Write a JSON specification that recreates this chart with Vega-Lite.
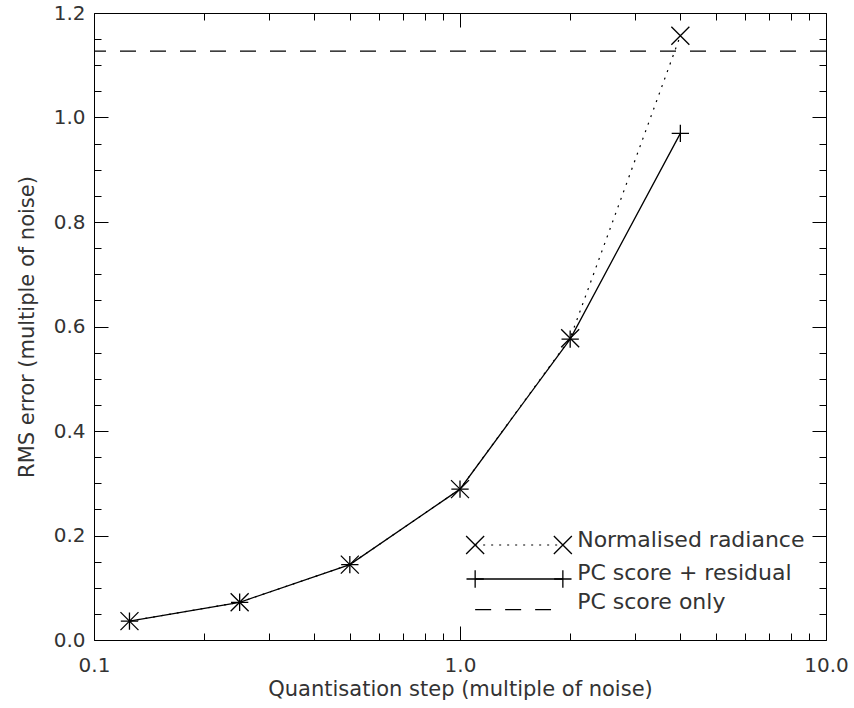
{
  "$schema": "https://vega.github.io/schema/vega-lite/v6.json",
  "width": 732,
  "height": 627,
  "autosize": {"type": "none"},
  "padding": {"left": 94, "top": 13, "right": 28, "bottom": 68},
  "config": {
    "view": {"stroke": "#000", "strokeWidth": 1},
    "font": "DejaVu Sans",
    "axis": {
      "grid": false,
      "domain": false,
      "labelFlush": false,
      "tickColor": "#000",
      "tickWidth": 1,
      "labelColor": "#333",
      "titleColor": "#333",
      "labelFont": "DejaVu Sans",
      "titleFont": "DejaVu Sans",
      "labelFontSize": 20,
      "titleFontSize": 21,
      "titleFontWeight": "normal"
    }
  },
  "data": {
    "values": [
      {"step": 0.125, "rms": 0.0361, "series": "Normalised radiance"},
      {"step": 0.25, "rms": 0.0722, "series": "Normalised radiance"},
      {"step": 0.5, "rms": 0.1443, "series": "Normalised radiance"},
      {"step": 1.0, "rms": 0.2887, "series": "Normalised radiance"},
      {"step": 2.0, "rms": 0.5774, "series": "Normalised radiance"},
      {"step": 4.0, "rms": 1.1565, "series": "Normalised radiance"},
      {"step": 0.125, "rms": 0.0361, "series": "PC score + residual"},
      {"step": 0.25, "rms": 0.0722, "series": "PC score + residual"},
      {"step": 0.5, "rms": 0.1443, "series": "PC score + residual"},
      {"step": 1.0, "rms": 0.2887, "series": "PC score + residual"},
      {"step": 2.0, "rms": 0.5760, "series": "PC score + residual"},
      {"step": 4.0, "rms": 0.9697, "series": "PC score + residual"}
    ]
  },
  "layer": [
    {
      "transform": [{"filter": "datum.series === 'Normalised radiance'"}],
      "mark": {"type": "line", "stroke": "#000", "strokeWidth": 1.2, "strokeDash": [2, 6]},
      "encoding": {
        "x": {"field": "step", "type": "quantitative",
              "scale": {"type": "log", "domain": [0.1, 10], "nice": false},
              "axis": {"orient": "bottom", "values": [0.1, 1, 10], "format": ".1f", "tickSize": -14,
                       "labelPadding": 29, "title": "Quantisation step (multiple of noise)", "titlePadding": 3}},
        "y": {"field": "rms", "type": "quantitative",
              "scale": {"domain": [0, 1.2], "nice": false, "zero": false},
              "axis": {"orient": "left", "values": [0, 0.2, 0.4, 0.6, 0.8, 1.0, 1.2], "format": ".1f", "tickSize": -14,
                       "labelPadding": 23, "title": "RMS error (multiple of noise)", "titlePadding": 16}}
      }
    },
    {
      "transform": [{"filter": "datum.series === 'PC score + residual'"}],
      "mark": {"type": "line", "stroke": "#000", "strokeWidth": 1.3},
      "encoding": {
        "x": {"field": "step", "type": "quantitative",
              "scale": {"type": "log", "domain": [0.1, 10], "nice": false},
              "axis": {"orient": "bottom", "values": [0.2, 0.3, 0.4, 0.5, 0.6, 0.7, 0.8, 0.9, 2, 3, 4, 5, 6, 7, 8, 9],
                       "tickSize": -7, "labels": false, "title": null}},
        "y": {"field": "rms", "type": "quantitative",
              "scale": {"domain": [0, 1.2], "nice": false, "zero": false},
              "axis": {"orient": "left", "values": [0.05, 0.1, 0.15, 0.25, 0.3, 0.35, 0.45, 0.5, 0.55, 0.65, 0.7, 0.75, 0.85, 0.9, 0.95, 1.05, 1.1, 1.15],
                       "tickSize": -7, "labels": false, "title": null}}
      }
    },
    {
      "transform": [{"filter": "datum.series === 'Normalised radiance'"}],
      "mark": {"type": "point", "shape": "M-1,-1L1,1M-1,1L1,-1", "filled": false, "stroke": "#000", "strokeWidth": 1.3, "size": 324, "opacity": 1},
      "encoding": {
        "x": {"field": "step", "type": "quantitative",
              "scale": {"type": "log", "domain": [0.1, 10], "nice": false},
              "axis": {"orient": "top", "values": [0.1, 1, 10], "tickSize": -14, "labels": false, "title": null}},
        "y": {"field": "rms", "type": "quantitative",
              "scale": {"domain": [0, 1.2], "nice": false, "zero": false},
              "axis": {"orient": "right", "values": [0, 0.2, 0.4, 0.6, 0.8, 1.0, 1.2], "tickSize": -14, "labels": false, "title": null}}
      }
    },
    {
      "transform": [{"filter": "datum.series === 'PC score + residual'"}],
      "mark": {"type": "point", "shape": "M-1,0L1,0M0,-1L0,1", "filled": false, "stroke": "#000", "strokeWidth": 1.3, "size": 300, "opacity": 1},
      "encoding": {
        "x": {"field": "step", "type": "quantitative",
              "scale": {"type": "log", "domain": [0.1, 10], "nice": false},
              "axis": {"orient": "top", "values": [0.2, 0.3, 0.4, 0.5, 0.6, 0.7, 0.8, 0.9, 2, 3, 4, 5, 6, 7, 8, 9],
                       "tickSize": -7, "labels": false, "title": null}},
        "y": {"field": "rms", "type": "quantitative",
              "scale": {"domain": [0, 1.2], "nice": false, "zero": false},
              "axis": {"orient": "right", "values": [0.05, 0.1, 0.15, 0.25, 0.3, 0.35, 0.45, 0.5, 0.55, 0.65, 0.7, 0.75, 0.85, 0.9, 0.95, 1.05, 1.1, 1.15],
                       "tickSize": -7, "labels": false, "title": null}}
      }
    },
    {
      "data": {"values": [{"series": "PC score only", "rms": 1.127}]},
      "mark": {"type": "rule", "stroke": "#000", "strokeWidth": 1.2, "strokeDash": [16, 14]},
      "encoding": {
        "y": {"field": "rms", "type": "quantitative", "axis": null}
      }
    },
    {
      "data": {"values": [{}]},
      "mark": {"type": "rule", "stroke": "#000", "strokeWidth": 1.2, "strokeDash": [2, 6]},
      "encoding": {
        "x": {"datum": 1.1, "axis": null},
        "x2": {"datum": 1.91},
        "y": {"datum": 0.1818, "axis": null}
      }
    },
    {
      "data": {"values": [{}]},
      "mark": {"type": "point", "shape": "M-1,-1L1,1M-1,1L1,-1", "filled": false, "stroke": "#000", "strokeWidth": 1.3, "size": 324, "opacity": 1},
      "encoding": {"x": {"datum": 1.1, "axis": null}, "y": {"datum": 0.1818, "axis": null}}
    },
    {
      "data": {"values": [{}]},
      "mark": {"type": "point", "shape": "M-1,-1L1,1M-1,1L1,-1", "filled": false, "stroke": "#000", "strokeWidth": 1.3, "size": 324, "opacity": 1},
      "encoding": {"x": {"datum": 1.91, "axis": null}, "y": {"datum": 0.1818, "axis": null}}
    },
    {
      "data": {"values": [{}]},
      "mark": {"type": "rule", "stroke": "#000", "strokeWidth": 1.3},
      "encoding": {
        "x": {"datum": 1.1, "axis": null},
        "x2": {"datum": 1.91},
        "y": {"datum": 0.1167, "axis": null}
      }
    },
    {
      "data": {"values": [{}]},
      "mark": {"type": "point", "shape": "M-1,0L1,0M0,-1L0,1", "filled": false, "stroke": "#000", "strokeWidth": 1.3, "size": 300, "opacity": 1},
      "encoding": {"x": {"datum": 1.1, "axis": null}, "y": {"datum": 0.1167, "axis": null}}
    },
    {
      "data": {"values": [{}]},
      "mark": {"type": "point", "shape": "M-1,0L1,0M0,-1L0,1", "filled": false, "stroke": "#000", "strokeWidth": 1.3, "size": 300, "opacity": 1},
      "encoding": {"x": {"datum": 1.91, "axis": null}, "y": {"datum": 0.1167, "axis": null}}
    },
    {
      "data": {"values": [{}]},
      "mark": {"type": "rule", "stroke": "#000", "strokeWidth": 1.2, "strokeDash": [16, 14]},
      "encoding": {
        "x": {"datum": 1.1, "axis": null},
        "x2": {"datum": 1.773},
        "y": {"datum": 0.058, "axis": null}
      }
    },
    {
      "data": {"values": [{"label": "Normalised radiance", "row": 0.178}]},
      "mark": {"type": "text", "align": "left", "baseline": "alphabetic", "font": "DejaVu Sans", "fontSize": 22, "color": "#333"},
      "encoding": {"x": {"datum": 2.09, "axis": null}, "y": {"field": "row", "type": "quantitative", "axis": null}, "text": {"field": "label"}}
    },
    {
      "data": {"values": [{"label": "PC score + residual", "row": 0.1148}]},
      "mark": {"type": "text", "align": "left", "baseline": "alphabetic", "font": "DejaVu Sans", "fontSize": 22, "color": "#333"},
      "encoding": {"x": {"datum": 2.09, "axis": null}, "y": {"field": "row", "type": "quantitative", "axis": null}, "text": {"field": "label"}}
    },
    {
      "data": {"values": [{"label": "PC score only", "row": 0.0593}]},
      "mark": {"type": "text", "align": "left", "baseline": "alphabetic", "font": "DejaVu Sans", "fontSize": 22, "color": "#333"},
      "encoding": {"x": {"datum": 2.09, "axis": null}, "y": {"field": "row", "type": "quantitative", "axis": null}, "text": {"field": "label"}}
    }
  ],
  "resolve": {"axis": {"x": "independent", "y": "independent"}}
}
